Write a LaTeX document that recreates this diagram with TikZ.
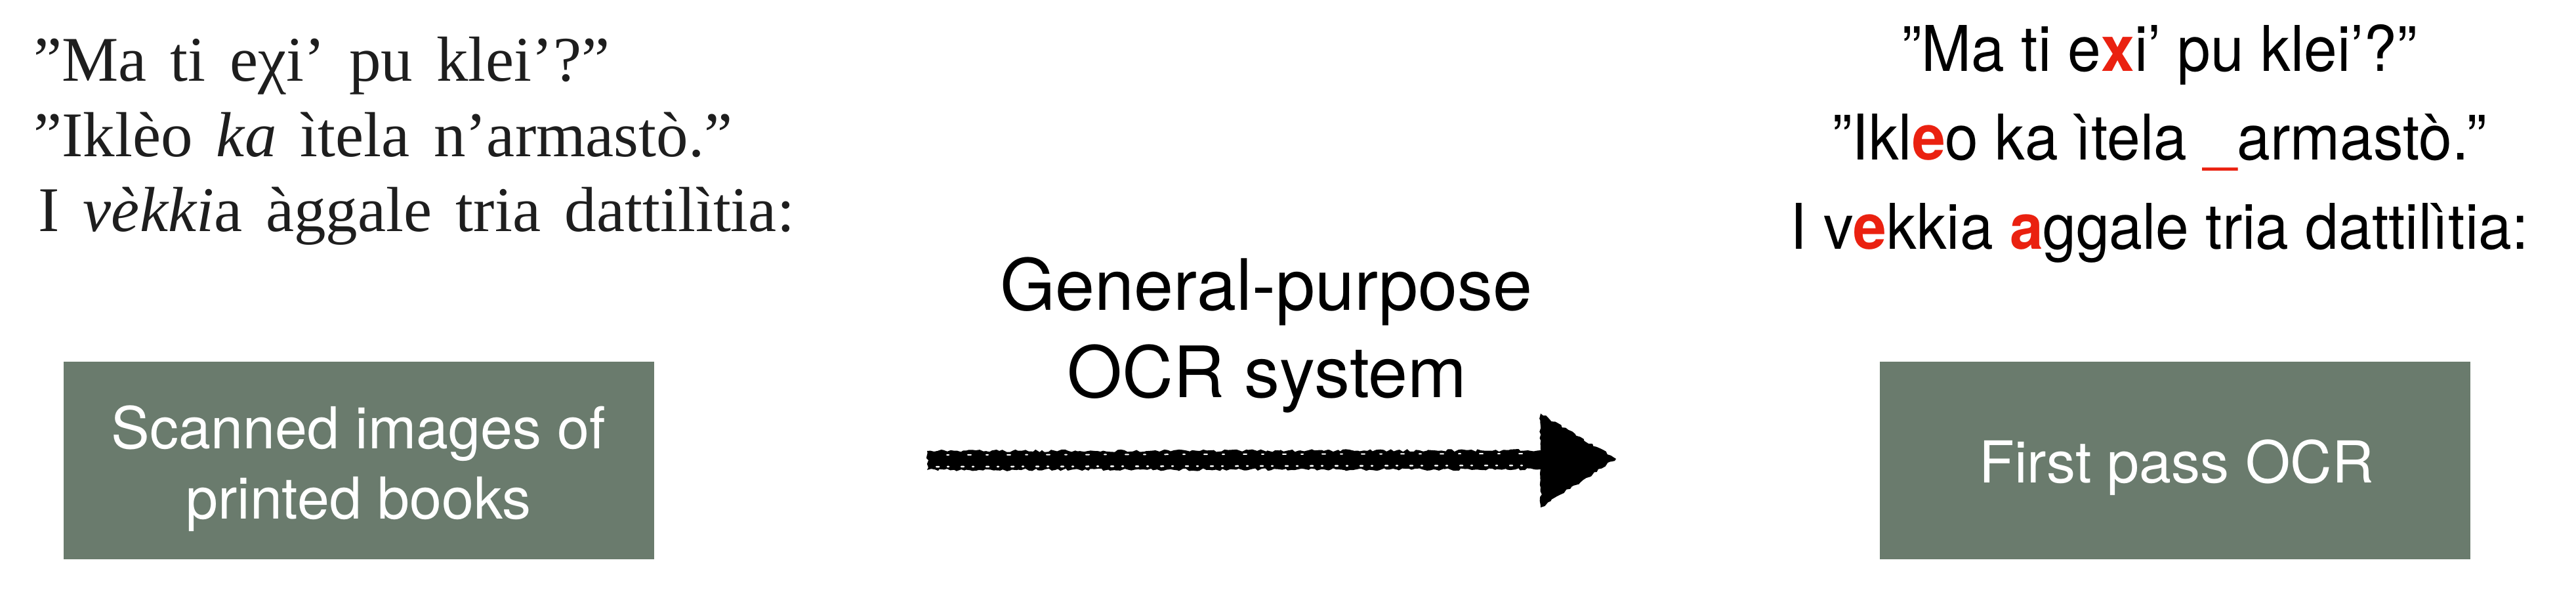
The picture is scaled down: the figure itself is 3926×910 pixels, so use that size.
\documentclass[tikz,border=0pt]{standalone}
\usepackage{fontspec}
\setmainfont{TeX Gyre Heros}
\newfontfamily\scanfont[WordSpace=1.5]{Liberation Serif}
\newfontfamily\ocrfont[FakeStretch=0.95]{TeX Gyre Heros}
\usetikzlibrary{calc,arrows.meta,decorations.pathmorphing}
\definecolor{boxgreen}{RGB}{106,123,109}
\definecolor{ocrred}{RGB}{234,33,16}
\definecolor{scanink}{RGB}{30,30,30}
\begin{document}
\begin{tikzpicture}[x=1pt,y=-1pt,
  greenbox/.style={fill=boxgreen, draw=none, minimum width=900pt, minimum height=301pt, inner sep=0pt},
  boxtext/.style={text=white, font=\fontsize{88}{106}\selectfont, inner sep=0pt, anchor=base},
  scanline/.style={text=scanink, font=\scanfont\fontsize{97}{115}\selectfont, inner sep=0pt, anchor=base west},
  ocrline/.style={text=black, font=\ocrfont\fontsize{96}{115}\selectfont, inner sep=0pt, anchor=base},
  midtext/.style={text=black, font=\fontsize{108}{130}\selectfont, inner sep=0pt, anchor=base},
  err/.style={text=ocrred, font=\bfseries},
  chalk/.style={fill=black, decorate, decoration={random steps, segment length=5pt, amplitude=2pt}},
]
\pgfmathsetseed{7}
\useasboundingbox (0,0) rectangle (3926,910);

% scanned text (left)
\node[scanline] (s1) at (51,123) {”Ma ti eχi’ pu klei’?”};
\node[scanline] (s2) at (51,238) {”Iklèo \textit{ka} ìtela n’armastò.”};
\node[scanline] (s3) at (58,352) {I \textit{vèkki}a àggale tria dattilìtia:};

% OCR output (right)
\node[ocrline] (o1) at (3291,108) {”Ma ti e\textcolor{ocrred}{\textbf{x}}i’ pu klei’?”};
\node[ocrline] (o2) at (3291,243) {”Ikl\textcolor{ocrred}{\textbf{e}}o ka ìtela \textcolor{ocrred}{\_}armastò.”};
\node[ocrline] (o3) at (3291,379) {I v\textcolor{ocrred}{\textbf{e}}kkia \textcolor{ocrred}{\textbf{a}}ggale tria dattilìtia:};

% boxes
\node[greenbox] (scan) at (546.5,701.5) {};
\node[boxtext] (scanA) at (546.5,683) {Scanned images of};
\node[boxtext] (scanB) at (546.5,790) {printed books};

\node[greenbox] (first) at (3314.5,701.5) {};
\node[boxtext] (firstA) at (3317,735) {First pass OCR};

% middle label
\node[midtext] (m1) at (1930,472) {General-purpose};
\node[midtext] (m2) at (1931,605) {OCR system};

% chalk arrow
\coordinate (arrS) at (1413,701);
\coordinate (arrE) at (2463,699);
\fill[chalk] ($(arrS)+(0,-14)$) -- ($(arrE)+(-115,-13)$) -- ($(arrE)+(-115,-69)$) -- (arrE)
  -- ($(arrE)+(-115,74)$) -- ($(arrE)+(-115,16)$) -- ($(arrS)+(0,15)$) -- cycle;
\draw[white, line width=2.5pt, line cap=round, dash pattern=on 4pt off 13pt on 2pt off 19pt]
  ($(arrS)+(14,10)$) -- ($(arrE)+(-130,10)$);
\draw[white, line width=2pt, line cap=round, dash pattern=on 3pt off 29pt on 5pt off 23pt]
  ($(arrS)+(30,-8)$) -- ($(arrE)+(-140,-8)$);
\end{tikzpicture}
\end{document}
